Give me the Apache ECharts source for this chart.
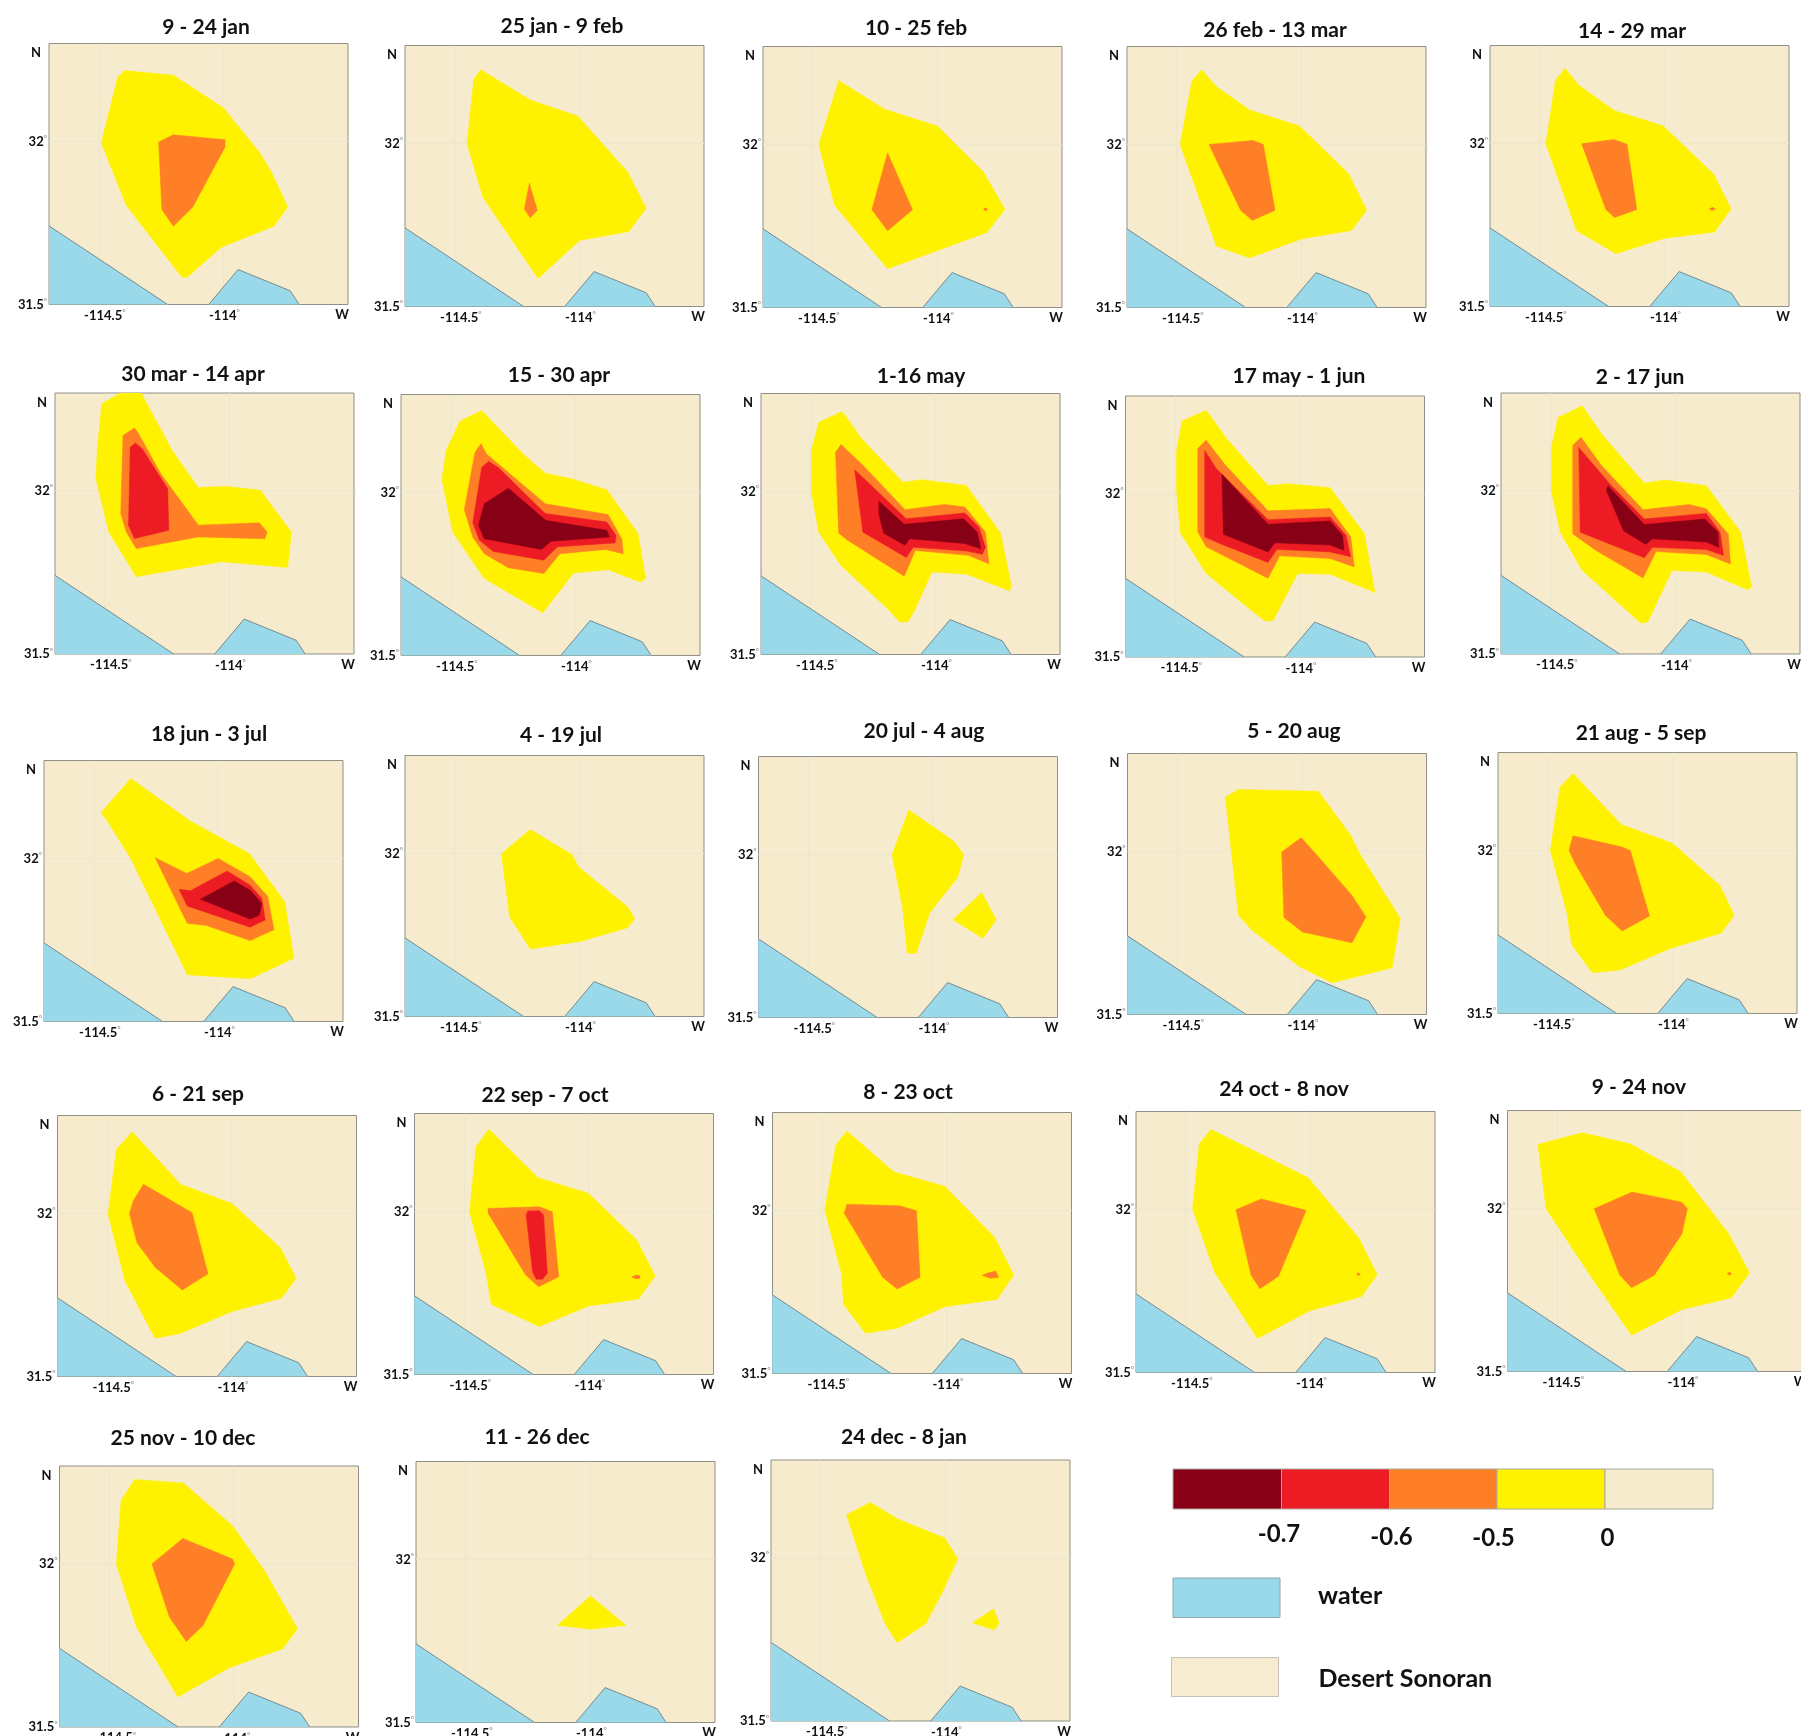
<!DOCTYPE html>
<html><head><meta charset="utf-8">
<style>html,body{margin:0;padding:0;background:#fff}#c{width:1801px;height:1736px}</style>
<script src="https://cdn.jsdelivr.net/npm/echarts@6/dist/echarts.min.js"></script>
</head><body><div id="c"></div>
<script>
// ---------- text ----------
const panelTitles = ['9 - 24 jan','25 jan - 9 feb','10 - 25 feb','26 feb - 13 mar','14 - 29 mar',
 '30 mar - 14 apr','15 - 30 apr','1-16 may','17 may - 1 jun','2 - 17 jun',
 '18 jun - 3 jul','4 - 19 jul','20 jul - 4 aug','5 - 20 aug','21 aug - 5 sep',
 '6 - 21 sep','22 sep - 7 oct','8 - 23 oct','24 oct - 8 nov','9 - 24 nov',
 '25 nov - 10 dec','11 - 26 dec','24 dec - 8 jan'];
const legendBreaks = ['-0.7','-0.6','-0.5','0'];
const legendClasses = ['water','Desert Sonoran'];

// ---------- axes ----------
const lonRange = [-114.7,-113.5];
const latRange = [31.5,32.3];
const gridLons = [-114.5,-114];
const gridLats = [32];

// ---------- coast (lon, lat) ----------
const waterWest = [[-114.7,31.741],[-114.224,31.5],[-114.7,31.5]];
const waterEast = [[-114.059,31.5],[-113.941,31.607],[-113.732,31.542],[-113.696,31.5]];

// ---------- contour polygons (lon, lat) ----------
const p01Y=[[-114.396,32.217],[-114.201,32.203],[-114,32.103],[-113.856,31.967],[-113.806,31.904],[-113.742,31.799],[-113.797,31.74],[-114.007,31.676],[-114.147,31.583],[-114.166,31.583],[-114.39,31.804],[-114.49,31.995],[-114.424,32.197]];
const p01O=[[-114.201,32.02],[-113.994,32.005],[-113.994,31.982],[-114.123,31.799],[-114.201,31.74],[-114.247,31.791],[-114.26,31.998]];
const p02Y=[[-114.396,32.226],[-114.424,32.196],[-114.451,31.999],[-114.387,31.834],[-114.166,31.586],[-114,31.702],[-113.801,31.73],[-113.732,31.801],[-113.806,31.912],[-113.911,32.002],[-114.007,32.084],[-114.197,32.133]];
const p02O=[[-114.201,31.878],[-114.169,31.795],[-114.197,31.772],[-114.221,31.798]];
const p03Y=[[-114.396,32.196],[-114.213,32.108],[-114,32.056],[-113.815,31.915],[-113.729,31.801],[-113.801,31.73],[-114.2,31.619],[-114.412,31.813],[-114.476,32]];
const p03O=[[-114.2,31.974],[-114.1,31.8],[-114.2,31.735],[-114.263,31.8]];
const p03S=[[-113.815,31.801],[-113.807,31.806],[-113.799,31.801],[-113.807,31.796]];
const p04Y=[[-114.401,32.229],[-114.44,32.193],[-114.487,32],[-114.341,31.688],[-114.208,31.652],[-114,31.71],[-113.799,31.736],[-113.738,31.798],[-113.81,31.91],[-114.009,32.057],[-114.208,32.105],[-114.341,32.177]];
const p04O=[[-114.371,32],[-114.194,32.012],[-114.153,32],[-114.106,31.798],[-114.197,31.767],[-114.244,31.798]];
const p05Y=[[-114.399,32.23],[-114.437,32.193],[-114.476,31.999],[-114.352,31.732],[-114.194,31.662],[-114,31.709],[-113.799,31.728],[-113.732,31.8],[-113.804,31.907],[-114.006,32.054],[-114.202,32.101],[-114.346,32.18]];
const p05O=[[-114.332,31.999],[-114.202,32.012],[-114.15,31.997],[-114.111,31.797],[-114.2,31.773],[-114.235,31.797]];
const p05S=[[-113.82,31.799],[-113.807,31.804],[-113.795,31.799],[-113.807,31.794]];
const p06Y=[[-114.512,32.267],[-114.438,32.3],[-114.354,32.3],[-114.23,32.124],[-114.125,32.01],[-114.018,32.014],[-113.876,32.002],[-113.751,31.874],[-113.766,31.765],[-114.031,31.783],[-114.374,31.737],[-114.484,31.874],[-114.536,32.038],[-114.53,32.134]];
const p06O=[[-114.381,32.193],[-114.427,32.17],[-114.436,31.93],[-114.414,31.874],[-114.374,31.823],[-114.125,31.859],[-113.858,31.853],[-113.849,31.874],[-113.88,31.902],[-114.125,31.895],[-114.276,32.053],[-114.368,32.18]];
const p06R=[[-114.377,32.147],[-114.398,32.134],[-114.405,31.895],[-114.381,31.854],[-114.243,31.879],[-114.248,32.007],[-114.35,32.129]];
const p07Y=[[-114.376,32.251],[-114.464,32.218],[-114.519,32.128],[-114.536,32.039],[-114.492,31.878],[-114.366,31.736],[-114.131,31.631],[-114.007,31.753],[-113.869,31.763],[-113.74,31.725],[-113.718,31.736],[-113.749,31.875],[-113.874,32.008],[-114.016,32.042],[-114.121,32.059],[-114.21,32.118]];
const p07O=[[-114.379,32.149],[-114.403,32.123],[-114.446,31.947],[-114.412,31.863],[-114.366,31.812],[-114.269,31.769],[-114.127,31.751],[-114.062,31.812],[-113.878,31.825],[-113.808,31.812],[-113.814,31.858],[-113.869,31.932],[-114.121,31.965],[-114.357,32.118]];
const p07R=[[-114.348,32.095],[-114.376,32.077],[-114.412,31.907],[-114.385,31.853],[-114.33,31.819],[-114.127,31.792],[-114.072,31.833],[-113.841,31.845],[-113.837,31.868],[-113.874,31.909],[-114.121,31.935],[-114.311,32.077]];
const p07D=[[-114.269,32.013],[-114.366,31.965],[-114.389,31.899],[-114.366,31.858],[-114.136,31.825],[-114.099,31.85],[-113.863,31.863],[-113.874,31.884],[-114.118,31.914]];
const p08Y=[[-114.374,32.245],[-114.468,32.212],[-114.498,32.125],[-114.498,31.998],[-114.468,31.875],[-114.379,31.773],[-114.2,31.646],[-114.144,31.6],[-114.111,31.6],[-114.083,31.636],[-114.014,31.753],[-113.873,31.746],[-113.702,31.695],[-113.696,31.712],[-113.738,31.872],[-113.876,32.018],[-114.056,32.036],[-114.13,32.028],[-114.296,32.161]];
const p08O=[[-114.379,32.144],[-114.401,32.12],[-114.388,31.872],[-114.352,31.85],[-114.125,31.74],[-114.081,31.819],[-113.868,31.804],[-113.785,31.778],[-113.799,31.875],[-113.882,31.952],[-113.965,31.96],[-114.122,31.944],[-114.296,32.084]];
const p08R=[[-114.324,32.066],[-114.291,31.875],[-114.117,31.797],[-114.089,31.829],[-113.873,31.817],[-113.812,31.807],[-113.799,31.829],[-113.826,31.891],[-113.882,31.934],[-114.117,31.916]];
const p08D=[[-114.227,31.97],[-114.227,31.931],[-114.208,31.872],[-114.122,31.835],[-114.103,31.855],[-113.882,31.84],[-113.818,31.824],[-113.832,31.875],[-113.887,31.916],[-114.125,31.899]];
const p09Y=[[-114.376,32.256],[-114.473,32.223],[-114.495,32.133],[-114.495,32.006],[-114.479,31.88],[-114.376,31.756],[-114.197,31.644],[-114.141,31.611],[-114.108,31.611],[-114.009,31.756],[-113.879,31.754],[-113.699,31.698],[-113.741,31.878],[-113.879,32.019],[-114.045,32.031],[-114.128,32.026],[-114.294,32.169]];
const p09O=[[-114.376,32.164],[-114.41,32.139],[-114.41,31.884],[-114.376,31.838],[-114.128,31.741],[-114.081,31.81],[-113.879,31.802],[-113.782,31.776],[-113.796,31.868],[-113.879,31.955],[-114.128,31.948],[-114.299,32.088]];
const p09R=[[-114.382,32.133],[-114.382,31.868],[-114.307,31.843],[-114.128,31.79],[-114.092,31.83],[-113.879,31.822],[-113.796,31.807],[-113.815,31.873],[-113.879,31.929],[-114.128,31.921],[-114.335,32.077]];
const p09D=[[-114.313,32.06],[-114.307,31.876],[-114.128,31.822],[-114.1,31.85],[-113.879,31.843],[-113.823,31.827],[-113.829,31.873],[-113.879,31.917],[-114.128,31.907]];
const p10Y=[[-114.374,32.261],[-114.471,32.225],[-114.498,32.133],[-114.498,32.001],[-114.462,31.873],[-114.374,31.756],[-114.18,31.623],[-114.139,31.595],[-114.111,31.598],[-114.014,31.756],[-113.876,31.751],[-113.71,31.697],[-113.694,31.705],[-113.738,31.873],[-113.876,32.016],[-114.042,32.033],[-114.125,32.024],[-114.291,32.169]];
const p10O=[[-114.379,32.164],[-114.412,32.139],[-114.412,31.868],[-114.318,31.817],[-114.13,31.733],[-114.078,31.814],[-113.876,31.805],[-113.779,31.776],[-113.788,31.868],[-113.876,31.945],[-113.945,31.958],[-114.13,31.942],[-114.296,32.077]];
const p10R=[[-114.388,32.133],[-114.382,31.873],[-114.125,31.795],[-114.092,31.827],[-113.876,31.82],[-113.807,31.802],[-113.821,31.873],[-113.876,31.931],[-114.125,31.914],[-114.263,32.021]];
const p10D=[[-114.271,32.016],[-114.277,32.001],[-114.208,31.878],[-114.119,31.836],[-114.092,31.853],[-113.876,31.843],[-113.826,31.827],[-113.829,31.873],[-113.882,31.914],[-114.125,31.897]];
const p11Y=[[-114.352,32.245],[-114.471,32.14],[-114.444,32.112],[-114.352,32],[-114.125,31.643],[-113.873,31.631],[-113.697,31.694],[-113.734,31.867],[-113.876,32.015],[-114.112,32.114]];
const p11O=[[-114.254,32.002],[-114.125,31.801],[-114.048,31.794],[-113.873,31.748],[-113.777,31.781],[-113.802,31.883],[-113.873,31.944],[-114.001,32],[-114.127,31.954]];
const p11R=[[-114.158,31.905],[-114.125,31.854],[-113.873,31.789],[-113.812,31.811],[-113.826,31.877],[-113.873,31.918],[-113.965,31.961],[-114.112,31.901]];
const p11D=[[-114.072,31.875],[-113.937,31.931],[-113.873,31.903],[-113.826,31.862],[-113.836,31.826],[-113.873,31.814],[-113.992,31.85]];
const p12Y=[[-114.197,32.073],[-114.313,31.999],[-114.28,31.805],[-114.197,31.707],[-113.994,31.731],[-113.806,31.772],[-113.778,31.8],[-113.806,31.836],[-114.003,31.958],[-114.031,31.997]];
const p13Y=[[-114.097,32.136],[-114.164,31.999],[-114.122,31.838],[-114.103,31.697],[-114.067,31.697],[-114.012,31.822],[-113.901,31.929],[-113.876,31.999],[-113.915,32.04]];
const p13Y2=[[-113.804,31.883],[-113.92,31.8],[-113.799,31.743],[-113.746,31.8]];
const p14Y=[[-114.255,32.19],[-114.307,32.166],[-114.255,31.804],[-114.2,31.758],[-114.012,31.648],[-113.879,31.597],[-113.638,31.643],[-113.605,31.794],[-113.768,31.993],[-113.804,32.049],[-113.934,32.184]];
const p14O=[[-114.003,32.042],[-114.081,31.998],[-114.072,31.797],[-113.998,31.753],[-113.799,31.72],[-113.743,31.799],[-113.799,31.865],[-113.951,31.998]];
const p15Y=[[-114.399,32.236],[-114.451,32.194],[-114.49,32],[-114.423,31.806],[-114.404,31.711],[-114.321,31.625],[-114.211,31.633],[-114.009,31.699],[-113.804,31.747],[-113.752,31.801],[-113.81,31.893],[-114,32.022],[-114.205,32.079]];
const p15O=[[-114.399,32.045],[-114.415,32],[-114.39,31.959],[-114.269,31.801],[-114.202,31.753],[-114.092,31.799],[-114.169,32],[-114.202,32.01]];
const p16Y=[[-114.4,32.25],[-114.464,32.196],[-114.497,31.997],[-114.429,31.793],[-114.309,31.617],[-114.208,31.632],[-114,31.699],[-113.802,31.74],[-113.742,31.801],[-113.806,31.895],[-114,32.03],[-114.206,32.089]];
const p16O=[[-114.355,32.089],[-114.396,32.038],[-114.411,31.999],[-114.381,31.91],[-114.307,31.834],[-114.199,31.765],[-114.096,31.815],[-114.16,32.002]];
const p17Y=[[-114.401,32.252],[-114.453,32.198],[-114.479,31.999],[-114.411,31.805],[-114.392,31.715],[-114.199,31.647],[-114.001,31.71],[-113.802,31.731],[-113.734,31.802],[-113.808,31.912],[-114.001,32.055],[-114.204,32.103]];
const p17O=[[-114.405,32.009],[-114.199,32.014],[-114.147,31.999],[-114.121,31.8],[-114.202,31.769],[-114.254,31.805],[-114.405,31.995]];
const p17S=[[-113.828,31.799],[-113.81,31.805],[-113.795,31.803],[-113.795,31.795],[-113.81,31.793]];
const p17R=[[-114.245,32.001],[-114.199,32.002],[-114.182,31.989],[-114.167,31.81],[-114.186,31.792],[-114.212,31.792],[-114.226,31.815],[-114.252,31.989]];
const p18Y=[[-114.401,32.243],[-114.446,32.2],[-114.49,32.001],[-114.423,31.807],[-114.415,31.712],[-114.327,31.623],[-114.2,31.639],[-114.006,31.705],[-113.799,31.727],[-113.732,31.802],[-113.807,31.916],[-114.009,32.074],[-114.213,32.118]];
const p18O=[[-114.401,32.019],[-114.412,31.991],[-114.258,31.795],[-114.2,31.759],[-114.108,31.795],[-114.122,31.999],[-114.191,32.014]];
const p18S=[[-113.804,31.814],[-113.793,31.795],[-113.826,31.792],[-113.859,31.801],[-113.832,31.809]];
const p19Y=[[-114.399,32.245],[-114.446,32.201],[-114.473,32.002],[-114.385,31.808],[-114.213,31.604],[-114.003,31.689],[-113.796,31.732],[-113.732,31.8],[-113.804,31.91],[-114.009,32.097]];
const p19O=[[-114.197,32.032],[-114.299,31.999],[-114.238,31.798],[-114.202,31.757],[-114.128,31.795],[-114.017,31.997]];
const p19S=[[-113.815,31.801],[-113.807,31.805],[-113.799,31.801],[-113.807,31.797]];
const p20Y=[[-114.401,32.232],[-114.578,32.196],[-114.545,31.999],[-114.36,31.785],[-114.202,31.611],[-114,31.69],[-113.801,31.726],[-113.729,31.803],[-113.812,31.922],[-114.006,32.113],[-114.208,32.198]];
const p20O=[[-114.2,32.05],[-114.352,31.999],[-114.249,31.795],[-114.202,31.757],[-114.111,31.795],[-114,31.922],[-113.978,31.999],[-114,32.019]];
const p20S=[[-113.819,31.8],[-113.81,31.805],[-113.801,31.8],[-113.81,31.795]];
const p21Y=[[-114.399,32.259],[-114.203,32.248],[-114.006,32.117],[-113.877,31.979],[-113.745,31.801],[-113.804,31.74],[-114.017,31.682],[-114.225,31.592],[-114.391,31.806],[-114.472,32],[-114.453,32.194]];
const p21O=[[-114.205,32.078],[-114.329,32],[-114.259,31.837],[-114.191,31.762],[-114.124,31.811],[-113.997,32],[-114.006,32.015]];
const p22Y=[[-114,31.888],[-114.132,31.798],[-113.997,31.786],[-113.857,31.798]];
const p23Y=[[-114.301,32.17],[-114.397,32.132],[-114.318,31.946],[-114.242,31.798],[-114.194,31.74],[-114.079,31.798],[-114.009,31.9],[-113.95,31.997],[-114.003,32.061],[-114.191,32.119]];
const p23Y2=[[-113.806,31.844],[-113.891,31.801],[-113.804,31.779],[-113.784,31.801]];

// per panel: [yellow, orange, red, dark] polygon lists
const panelLayers = [
 [[p01Y],[p01O]],[[p02Y],[p02O]],[[p03Y],[p03O,p03S]],[[p04Y],[p04O]],[[p05Y],[p05O,p05S]],
 [[p06Y],[p06O],[p06R]],[[p07Y],[p07O],[p07R],[p07D]],[[p08Y],[p08O],[p08R],[p08D]],[[p09Y],[p09O],[p09R],[p09D]],[[p10Y],[p10O],[p10R],[p10D]],
 [[p11Y],[p11O],[p11R],[p11D]],[[p12Y]],[[p13Y,p13Y2]],[[p14Y],[p14O]],[[p15Y],[p15O]],
 [[p16Y],[p16O]],[[p17Y],[p17O,p17S],[p17R]],[[p18Y],[p18O,p18S]],[[p19Y],[p19O,p19S]],[[p20Y],[p20O,p20S]],
 [[p21Y],[p21O]],[[p22Y]],[[p23Y,p23Y2]]
];

// ---------- styling & layout ----------
const levelColors = ['#FFF200','#FF7F27','#ED1C24','#880015'];
const desert = '#F6EBCD', water = '#99D9EA';
const FONT = 'Lato';
const panelW = 299, panelH = 261;
const frames = [[49,43.5],[405,45.5],[763,46.5],[1127,46.5],[1490,45.5],
 [55,393],[401,394.5],[761,393.5],[1125.5,396],[1501,393],
 [44,760.5],[405,755.5],[758.5,756.5],[1127.5,753.5],[1498,752.5],
 [57.5,1115.5],[414.5,1113.5],[772.5,1112.5],[1136,1111.5],[1507.5,1110.5],
 [59.5,1466],[416,1461.5],[771,1460]];
const titlePos = [[201,22],[557,21],[911,23],[1270,25],[1627,26],
 [188,369],[554,370],[916,371],[1294,371],[1635,372],
 [204,729],[556,730],[919,726],[1289,726],[1636,728],
 [193,1089],[540,1090],[903,1087],[1279,1084],[1634,1082],
 [178,1433],[532,1432],[899,1432]];
const xLabelAt = [-114.476,-113.996,-113.524];
const yLabelAt = [31.5,32,32.271];

const option = {animation:false, backgroundColor:'#fff', title:[], grid:[], xAxis:[], yAxis:[], series:[], graphic:[]};

panelTitles.forEach((t,i)=>{
  const [l,tp] = frames[i];
  option.title.push({text:t,left:titlePos[i][0],top:titlePos[i][1],textAlign:'center',textVerticalAlign:'middle',
    textStyle:{fontFamily:FONT,fontWeight:'bold',fontSize:21,color:'#111'}});
  option.grid.push({left:l,top:tp,width:panelW,height:panelH,show:true,backgroundColor:desert,borderColor:'#8f8f86',borderWidth:1,containLabel:false,outerBoundsMode:'none'});
  const deg = {d:{fontSize:8,color:'#999',fontFamily:FONT,verticalAlign:'top',padding:[0,0,6,0]},
    c:{fontSize:13,fontWeight:'bold',color:'#111',fontFamily:FONT,padding:[1,0,0,0]},
    n:{fontSize:13,fontWeight:'bold',color:'#111',fontFamily:FONT,padding:[0,6,0,0]}};
  const xTexts = ['-114.5{d|°}','{c|-114}{d|°}','W'];
  const yTexts = ['31.5{d|°}','32{d|°}','{n|N}'];
  option.xAxis.push({gridIndex:i,type:'value',min:lonRange[0],max:lonRange[1],
    axisLine:{show:false},axisTick:{show:false},splitLine:{show:false},
    axisLabel:{customValues:xLabelAt,margin:4,fontFamily:FONT,fontWeight:'bold',fontSize:13,color:'#111',
      formatter:(v)=>xTexts[xLabelAt.indexOf(v)],rich:deg}});
  option.yAxis.push({gridIndex:i,type:'value',min:latRange[0],max:latRange[1],
    axisLine:{show:false},axisTick:{show:false},splitLine:{show:false},
    axisLabel:{customValues:yLabelAt,margin:2,fontFamily:FONT,fontWeight:'bold',fontSize:13,color:'#111',
      formatter:(v)=>yTexts[yLabelAt.indexOf(v)],rich:deg}});
  const items = [];
  gridLons.forEach(v=>items.push({kind:'polyline',pts:[[v,latRange[0]],[v,latRange[1]]],stroke:'#ebe6cd'}));
  gridLats.forEach(v=>items.push({kind:'polyline',pts:[[lonRange[0],v],[lonRange[1],v]],stroke:'#ebe6cd'}));
  items.push({kind:'polygon',pts:waterWest,fill:water});
  items.push({kind:'polygon',pts:waterEast,fill:water});
  items.push({kind:'polyline',pts:waterWest.slice(0,2),stroke:'#7f8c8c'});
  items.push({kind:'polyline',pts:waterEast,stroke:'#7f8c8c'});
  panelLayers[i].forEach((polys,lev)=>polys.forEach(p=>items.push({kind:'polygon',pts:p,fill:levelColors[lev]})));
  option.series.push({type:'custom',xAxisIndex:i,yAxisIndex:i,clip:true,silent:true,
    data:items.map(it=>[it.pts[0][0],it.pts[0][1]]),encode:{x:0,y:1},
    renderItem:(params,api)=>{
      const it = items[params.dataIndex];
      const points = it.pts.map(p=>api.coord(p));
      return it.kind==='polygon'
        ? {type:'polygon',shape:{points},style:{fill:it.fill,stroke:it.fill,lineWidth:0.5}}
        : {type:'polyline',shape:{points},style:{fill:null,stroke:it.stroke,lineWidth:1}};
    }});
});

// ---------- legend ----------
const barEdges = [1173,1281.5,1389.5,1497,1605,1713];
const barColors = ['#880015','#ED1C24','#FF7F27','#FFF200',desert];
barColors.forEach((c,i)=>option.graphic.push({type:'rect',shape:{x:barEdges[i],y:1469,width:barEdges[i+1]-barEdges[i],height:40},style:{fill:c,stroke:'#a9a9a0',lineWidth:1}}));
const breakPos = [[1279,1534],[1391.5,1537],[1493.5,1538],[1607.5,1538]];
legendBreaks.forEach((t,i)=>option.graphic.push({type:'text',x:breakPos[i][0],y:breakPos[i][1],style:{text:t,font:'bold 24px '+FONT,fill:'#111',align:'center',verticalAlign:'middle'}}));
option.graphic.push({type:'rect',shape:{x:1173,y:1578,width:107,height:39.5},style:{fill:water,stroke:'#8fa8ae',lineWidth:1}});
option.graphic.push({type:'rect',shape:{x:1171.5,y:1657.5,width:107,height:39},style:{fill:'#F7ECCF',stroke:'#c4c2b4',lineWidth:1}});
option.graphic.push({type:'text',x:1318,y:1596,style:{text:legendClasses[0],font:'bold 25px '+FONT,fill:'#111',align:'left',verticalAlign:'middle'}});
option.graphic.push({type:'text',x:1318.5,y:1679,style:{text:legendClasses[1],font:'bold 25px '+FONT,fill:'#111',align:'left',verticalAlign:'middle'}});

echarts.init(document.getElementById('c'),null,{renderer:'canvas'}).setOption(option);
</script></body></html>
